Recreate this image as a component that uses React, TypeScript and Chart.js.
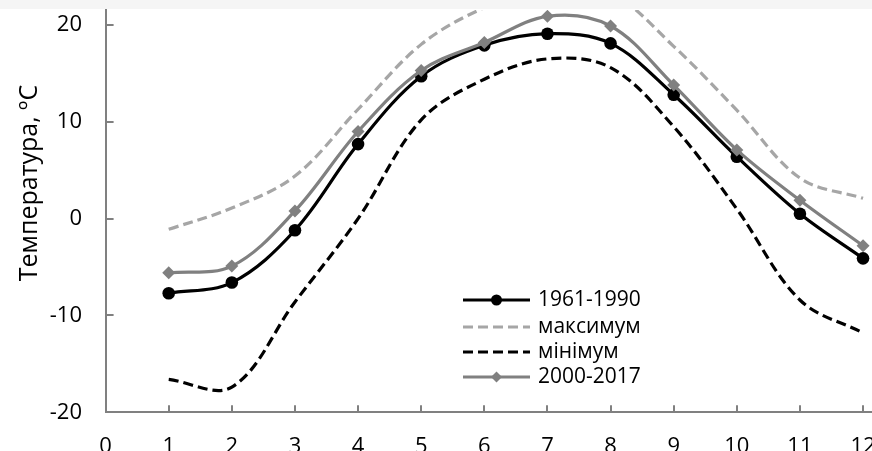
import React, { useEffect, useRef } from 'react';
import { Chart, registerables } from 'chart.js';

Chart.register(...registerables);

// ---- data ----
const months = [1, 2, 3, 4, 5, 6, 7, 8, 9, 10, 11, 12];
const xTickValues = [0, 1, 2, 3, 4, 5, 6, 7, 8, 9, 10, 11, 12];
const yTickValues = [-20, -10, 0, 10, 20];
const seriesLabels = ['1961-1990', 'максимум', 'мінімум', '2000-2017'];
const values1961 = [-7.7, -6.6, -1.2, 7.7, 14.7, 17.9, 19.1, 18.1, 12.8, 6.4, 0.5, -4.1];
const valuesMax = [-1.1, 1.1, 4.4, 11.3, 18.0, 21.8, 24.0, 23.3, 17.8, 11.2, 4.2, 2.1];
const valuesMin = [-16.6, -17.4, -8.6, 0.0, 10.2, 14.4, 16.5, 15.6, 9.5, 1.0, -8.4, -11.8];
const values2000 = [-5.6, -4.9, 0.8, 9.0, 15.3, 18.2, 20.9, 19.9, 13.8, 7.1, 1.9, -2.8];
const yTitle = 'Температура, ºС';

const FONT = "'Open Sans', 'Noto Sans', sans-serif";
const AXIS_COLOR = '#808080';
const CANVAS_W = 872;
const CANVAS_H = 480;
const PLOT_BOTTOM = 412.3;

const toPoints = (vals: number[]) => months.map((m, i) => ({ x: m, y: vals[i] }));

const decorPlugin = {
  id: 'decor',
  beforeDraw(chart: any) {
    const ctx = chart.ctx;
    ctx.save();
    ctx.fillStyle = '#ffffff';
    ctx.fillRect(0, 0, chart.width, chart.height);
    ctx.fillStyle = '#f5f5f5';
    ctx.fillRect(0, 0, chart.width, 9);
    ctx.restore();
  },
  afterDraw(chart: any) {
    const ctx = chart.ctx;
    const xs = chart.scales.x;
    const ys = chart.scales.y;
    const area = chart.chartArea;
    ctx.save();
    // inward tick marks
    ctx.strokeStyle = AXIS_COLOR;
    ctx.lineWidth = 2;
    ctx.setLineDash([]);
    xTickValues.forEach((v) => {
      const px = Math.round(xs.getPixelForValue(v));
      ctx.beginPath();
      ctx.moveTo(px, area.bottom);
      ctx.lineTo(px, area.bottom - 7);
      ctx.stroke();
    });
    yTickValues.forEach((v) => {
      const py = Math.round(ys.getPixelForValue(v));
      ctx.beginPath();
      ctx.moveTo(area.left, py);
      ctx.lineTo(area.left + 8, py);
      ctx.stroke();
    });

    // x tick labels
    ctx.fillStyle = '#000';
    ctx.font = `22px ${FONT}`;
    ctx.textAlign = 'center';
    ctx.textBaseline = 'alphabetic';
    xTickValues.forEach((v) => {
      ctx.fillText(String(v), xs.getPixelForValue(v), area.bottom + 40.5);
    });

    // y title
    ctx.save();
    ctx.translate(30, 183);
    ctx.rotate(-Math.PI / 2);
    ctx.fillStyle = '#000';
    ctx.font = `25px ${FONT}`;
    ctx.textAlign = 'center';
    ctx.textBaseline = 'middle';
    ctx.fillText(yTitle, 0, 0);
    ctx.restore();

    // legend
    const rows = [300, 327, 352, 377];
    const x0 = 463;
    const x1 = 530;
    const xm = (x0 + x1) / 2;
    chart.data.datasets.forEach((ds: any, i: number) => {
      const y = rows[i];
      ctx.strokeStyle = ds.borderColor;
      ctx.lineWidth = ds.borderWidth;
      ctx.setLineDash(ds.borderDash || []);
      ctx.beginPath();
      ctx.moveTo(x0, y);
      ctx.lineTo(x1, y);
      ctx.stroke();
      ctx.setLineDash([]);
      if (ds.pointRadius > 0) {
        ctx.fillStyle = ds.pointBackgroundColor;
        ctx.beginPath();
        if (ds.pointStyle === 'rectRot') {
          const r = 5.5;
          ctx.moveTo(xm, y - r);
          ctx.lineTo(xm + r, y);
          ctx.lineTo(xm, y + r);
          ctx.lineTo(xm - r, y);
          ctx.closePath();
        } else {
          ctx.arc(xm, y, 5.5, 0, Math.PI * 2);
        }
        ctx.fill();
      }
      ctx.fillStyle = '#000';
      ctx.font = `21px ${FONT}`;
      ctx.textAlign = 'left';
      ctx.textBaseline = 'middle';
      ctx.fillText(ds.label, 538, y);
    });
    ctx.restore();
  },
};

export default function App() {
  const canvasRef = useRef<HTMLCanvasElement | null>(null);

  useEffect(() => {
    const canvas = canvasRef.current;
    if (!canvas) return;
    document.body.style.margin = '0';
    const chart = new Chart(canvas, {
      type: 'line',
      data: {
        datasets: [
          {
            label: seriesLabels[0],
            data: toPoints(values1961),
            borderColor: '#000000',
            borderWidth: 3.2,
            pointStyle: 'circle',
            pointRadius: 6.3,
            pointBackgroundColor: '#000000',
            pointBorderColor: '#000000',
            pointBorderWidth: 0,
            tension: 0.35,
            order: 1,
          },
          {
            label: seriesLabels[1],
            data: toPoints(valuesMax),
            borderColor: '#a6a6a6',
            borderWidth: 3.2,
            borderDash: [10, 5],
            pointRadius: 0,
            tension: 0.35,
            order: 3,
          },
          {
            label: seriesLabels[2],
            data: toPoints(valuesMin),
            borderColor: '#000000',
            borderWidth: 3.2,
            borderDash: [10, 5],
            pointRadius: 0,
            tension: 0.35,
            order: 2,
          },
          {
            label: seriesLabels[3],
            data: toPoints(values2000),
            borderColor: '#808080',
            borderWidth: 3.2,
            pointStyle: 'rectRot',
            pointRadius: 6.5,
            pointBackgroundColor: '#808080',
            pointBorderColor: '#808080',
            pointBorderWidth: 0,
            tension: 0.35,
            order: 0,
          },
        ] as any,
      },
      options: {
        responsive: false,
        devicePixelRatio: 1,
        animation: false,
        events: [],
        layout: { autoPadding: false, padding: { top: 10, left: 0, right: 0, bottom: 0 } },
        plugins: {
          legend: { display: false },
          tooltip: { enabled: false },
          title: { display: false },
        },
        scales: {
          x: {
            type: 'linear',
            min: 0,
            max: 12.142,
            afterBuildTicks: (s: any) => {
              s.ticks = xTickValues.map((v) => ({ value: v }));
            },
            afterFit: (s: any) => {
              s.height = CANVAS_H - PLOT_BOTTOM;
              s.paddingLeft = 0;
              s.paddingRight = 0;
            },
            ticks: { display: false },
            grid: { display: false, drawTicks: false },
            border: { display: true, color: AXIS_COLOR, width: 2 },
          },
          y: {
            type: 'linear',
            min: -20,
            max: 21.55,
            afterBuildTicks: (s: any) => {
              s.ticks = yTickValues.map((v) => ({ value: v }));
            },
            afterFit: (s: any) => {
              s.width = 105.6;
              s.paddingTop = 0;
              s.paddingBottom = 0;
            },
            ticks: {
              padding: 23.6,
              color: '#000',
              font: { family: FONT, size: 22 },
            },
            grid: { display: false, drawTicks: false },
            border: { display: true, color: AXIS_COLOR, width: 2 },
          },
        },
      } as any,
      plugins: [decorPlugin],
    });
    return () => chart.destroy();
  }, []);

  return (
    <div
      style={{
        position: 'fixed',
        left: 0,
        top: 0,
        width: CANVAS_W,
        height: 451,
        overflow: 'hidden',
        background: '#fff',
      }}
    >
      <canvas ref={canvasRef} width={CANVAS_W} height={CANVAS_H} style={{ display: 'block' }} />
    </div>
  );
}
